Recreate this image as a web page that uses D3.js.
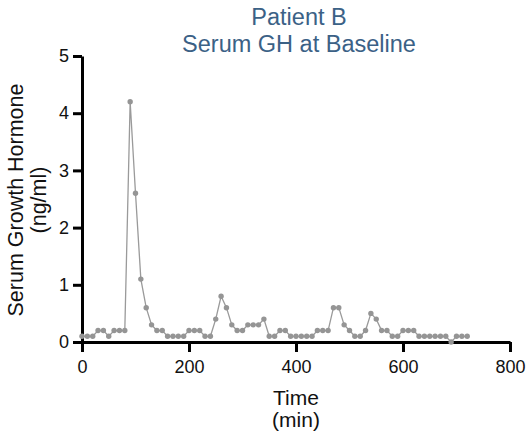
<!DOCTYPE html>
<html>
<head>
<meta charset="utf-8">
<script src="https://cdn.jsdelivr.net/npm/d3@7"></script>
<style>
  body { margin: 0; background: #fff; }
  text { font-family: "Liberation Sans", Arial, sans-serif; }
</style>
</head>
<body>
<figure id="ghChart" style="margin:0"></figure>
<script>
// sampling times (min) and serum GH (ng/ml)
var times = [0, 10, 20, 30, 40, 50, 60, 70, 80, 90, 100, 110, 120, 130, 140, 150, 160, 170, 180, 190,
  200, 210, 220, 230, 240, 250, 260, 270, 280, 290, 300, 310, 320, 330, 340, 350, 360, 370, 380, 390,
  400, 410, 420, 430, 440, 450, 460, 470, 480, 490, 500, 510, 520, 530, 540, 550, 560, 570, 580, 590,
  600, 610, 620, 630, 640, 650, 660, 670, 680, 690, 700, 710, 720];
var gh = [0.1, 0.1, 0.1, 0.2, 0.2, 0.1, 0.2, 0.2, 0.2, 4.2, 2.6, 1.1, 0.6, 0.3, 0.2, 0.2, 0.1, 0.1, 0.1, 0.1,
  0.2, 0.2, 0.2, 0.1, 0.1, 0.4, 0.8, 0.6, 0.3, 0.2, 0.2, 0.3, 0.3, 0.3, 0.4, 0.1, 0.1, 0.2, 0.2, 0.1,
  0.1, 0.1, 0.1, 0.1, 0.2, 0.2, 0.2, 0.6, 0.6, 0.3, 0.2, 0.1, 0.1, 0.2, 0.5, 0.4, 0.2, 0.2, 0.1, 0.1,
  0.2, 0.2, 0.2, 0.1, 0.1, 0.1, 0.1, 0.1, 0.1, 0.0, 0.1, 0.1, 0.1];
var xTicks = [0, 200, 400, 600, 800];
var yTicks = [0, 1, 2, 3, 4, 5];

var data = times.map(function(t, i) { return {t: t, v: gh[i]}; });

var margin = {top: 56, right: 16, bottom: 94, left: 82},
  width = 526 - margin.left - margin.right,
  height = 436 - margin.top - margin.bottom;

var svg = d3.select("figure#ghChart")
.append("svg")
  .attr("width", 526)
  .attr("height", 436);

var g = svg.append("g")
  .attr("transform", "translate(" + margin.left + "," + margin.top + ")");

var x = d3.scaleLinear().domain([0, 800]).range([0, width]);
var y = d3.scaleLinear().domain([0, 5]).range([height, 0]);

// title
svg.append("text")
  .attr("x", 299).attr("y", 25)
  .attr("text-anchor", "middle")
  .style("font-size", "23.5px").style("fill", "#3b6186")
  .text("Patient B");
svg.append("text")
  .attr("x", 299).attr("y", 52)
  .attr("text-anchor", "middle")
  .style("font-size", "23.5px").style("fill", "#3b6186")
  .text("Serum GH at Baseline");

// axes
var xAxis = g.append("g")
  .attr("transform", "translate(0," + height + ")")
  .call(d3.axisBottom(x).tickValues(xTicks).tickSize(10).tickPadding(8).tickSizeOuter(0));
var yAxis = g.append("g")
  .call(d3.axisLeft(y).tickValues(yTicks).tickFormat(d3.format("d")).tickSize(9).tickPadding(4).tickSizeOuter(0));

[xAxis, yAxis].forEach(function(a) {
  a.select(".domain").attr("stroke", "#000").attr("stroke-width", 3);
  a.selectAll(".tick line").attr("stroke", "#000").attr("stroke-width", 3);
  a.selectAll(".tick text").style("font-size", "18px").style("fill", "#111")
    .style("font-family", "'Liberation Sans', Arial, sans-serif");
});

// axis titles
svg.append("text")
  .attr("x", 296).attr("y", 405)
  .attr("text-anchor", "middle").style("font-size", "21px").style("fill", "#111")
  .text("Time");
svg.append("text")
  .attr("x", 296).attr("y", 427)
  .attr("text-anchor", "middle").style("font-size", "21px").style("fill", "#111")
  .text("(min)");
svg.append("text")
  .attr("transform", "translate(23,200) rotate(-90)")
  .attr("text-anchor", "middle").style("font-size", "21.5px").style("fill", "#111")
  .text("Serum Growth Hormone");
svg.append("text")
  .attr("transform", "translate(46,200) rotate(-90)")
  .attr("text-anchor", "middle").style("font-size", "21.5px").style("fill", "#111")
  .text("(ng/ml)");

// line and points
var line = d3.line()
  .x(function(d) { return x(d.t); })
  .y(function(d) { return y(d.v); });

g.append("path")
  .datum(data)
  .attr("fill", "none")
  .attr("stroke", "#9a9a9a")
  .attr("stroke-width", 1.3)
  .attr("d", line);

g.append("g")
  .selectAll("circle")
  .data(data)
  .enter()
  .append("circle")
    .attr("r", 2.7)
    .attr("fill", "#959595")
    .attr("cx", function(d) { return x(d.t); })
    .attr("cy", function(d) { return y(d.v); });
</script>
</body>
</html>
